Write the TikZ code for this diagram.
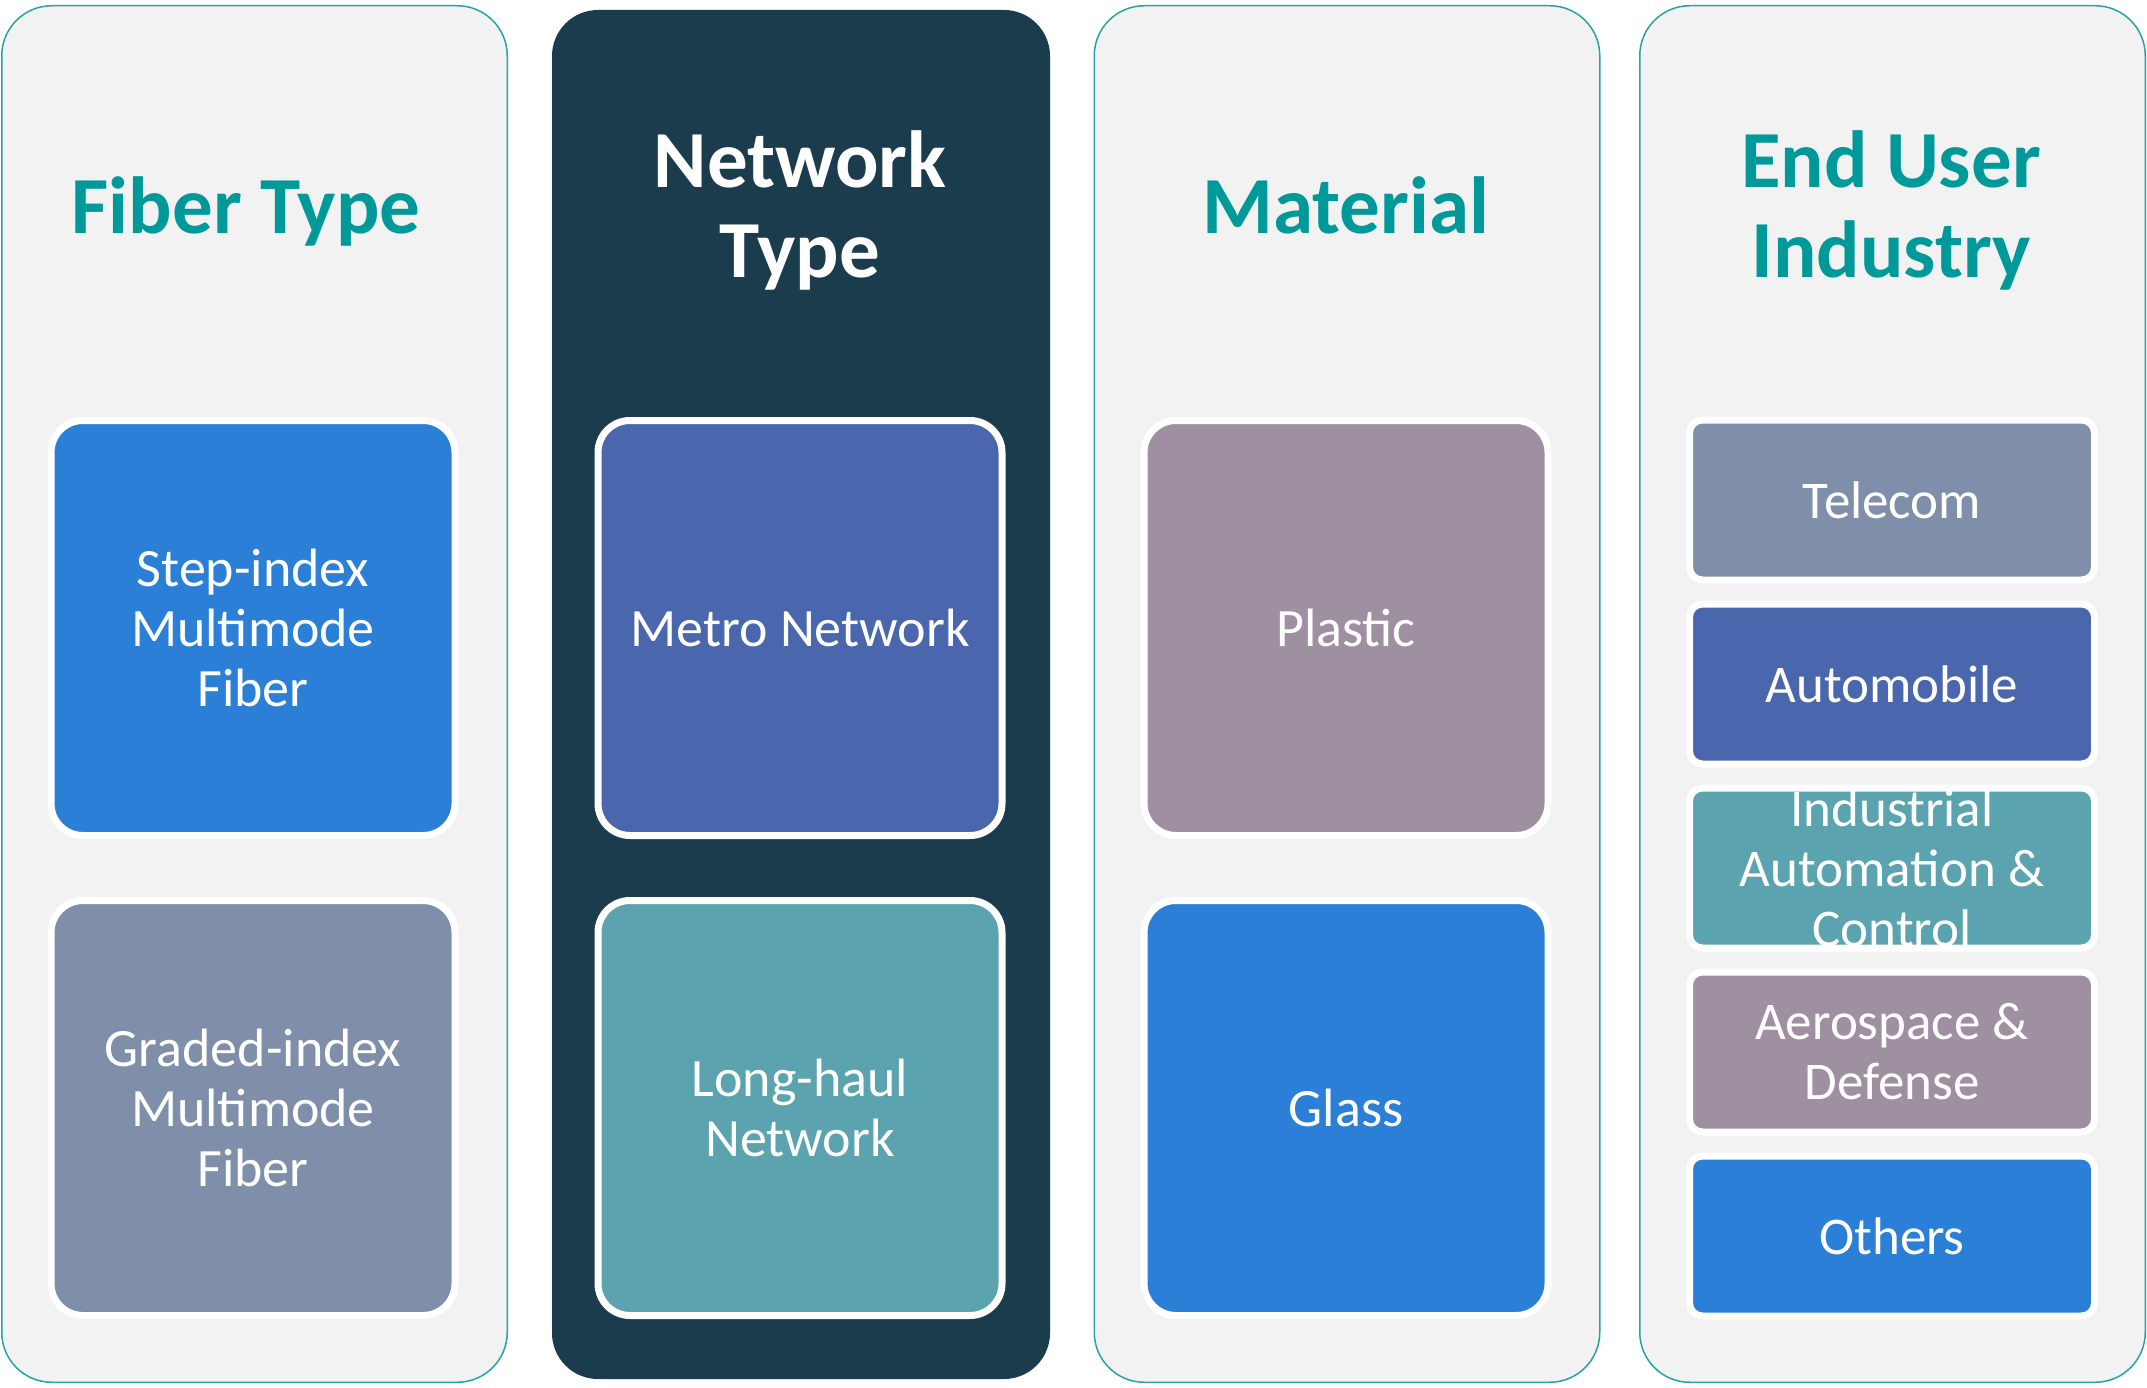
\documentclass[tikz,border=0pt]{standalone}
\usepackage{fontspec}
\setmainfont{Carlito}
\usetikzlibrary{calc}
\definecolor{ttl}{RGB}{0,153,153}
\definecolor{edgec}{RGB}{38,163,163}
\definecolor{pbg}{RGB}{242,242,242}
\definecolor{darkp}{RGB}{27,60,76}
\definecolor{cblue}{RGB}{43,127,214}
\definecolor{cslate}{RGB}{127,143,169}
\definecolor{cindigo}{RGB}{74,103,174}
\definecolor{cteal}{RGB}{91,163,175}
\definecolor{cmauve}{RGB}{159,144,161}
\begin{document}
\begin{tikzpicture}[x=1pt,y=-1pt,
  panel/.style={rectangle, rounded corners=50pt, draw=edgec, line width=1.5pt, fill=pbg, inner sep=0pt, minimum width=505.5pt, minimum height=1376.5pt},
  darkpanel/.style={rectangle, rounded corners=46pt, fill=darkp, inner sep=0pt, minimum width=498pt, minimum height=1369pt},
  ttlfont/.style={font=\fontsize{81}{90}\selectfont\bfseries, align=center, inner sep=0pt},
  bigbox/.style={rectangle, rounded corners=32pt, draw=white, line width=7pt, inner sep=0pt, minimum width=404pt, minimum height=415pt, text=white, font=\fontsize{54}{60}\selectfont, align=center},
  ubox/.style={rectangle, rounded corners=13pt, draw=white, line width=7pt, inner sep=0pt, minimum width=405pt, minimum height=160pt, text=white, font=\fontsize{53}{60}\selectfont, align=center},
  utext/.style={text=white, font=\fontsize{53}{60}\selectfont, align=center, inner sep=0pt}
]
\useasboundingbox (0,0) rectangle (2147,1388);
% panels
\node[panel] (p1) at (254.5,694) {};
\node[darkpanel] (p2) at (801,694.5) {};
\node[panel] (p3) at (1347,694) {};
\node[panel] (p4) at (1892.5,694) {};
% titles
\node[ttlfont, text=ttl, anchor=base] (t1) at (246,234) {Fiber Type};
\node[ttlfont, text=white, anchor=base] (t2) at (800,278) {Network\\Type};
\node[ttlfont, text=ttl, anchor=base] (t3) at (1346,234) {Material};
\node[ttlfont, text=ttl, anchor=base] (t4) at (1891,278) {End User\\Industry};
% column 1
\node[bigbox, fill=cblue] (b11) at (253,628) {Step-index\\Multimode\\Fiber};
\node[bigbox, fill=cslate] (b12) at (253,1108) {Graded-index\\Multimode\\Fiber};
% column 2
\node[bigbox, fill=cindigo] (b21) at (800,628) {Metro Network};
\node[bigbox, fill=cteal] (b22) at (800,1108) {Long-haul\\Network};
% column 3
\node[bigbox, fill=cmauve] (b31) at (1346,628) {Plastic};
\node[bigbox, fill=cblue] (b32) at (1346,1108) {Glass};
% column 4
\node[ubox, fill=cslate] (u1) at (1892,500) {Telecom};
\node[ubox, fill=cindigo] (u2) at (1892,684) {Automobile};
\node[ubox, fill=cteal] (u3) at (1892,868) {};
\begin{scope}
  \clip[rounded corners=10pt] ($(u3.south west)+(3.5,-3.5)$) rectangle ($(u3.north east)+(-3.5,3.5)$);
  \node[utext] (u3t) at (u3.center) {Industrial\\Automation \&\\Control};
\end{scope}
\node[ubox, fill=cmauve] (u4) at (1892,1052) {Aerospace \&\\Defense};
\node[ubox, fill=cblue] (u5) at (1892,1236) {Others};
\end{tikzpicture}
\end{document}
